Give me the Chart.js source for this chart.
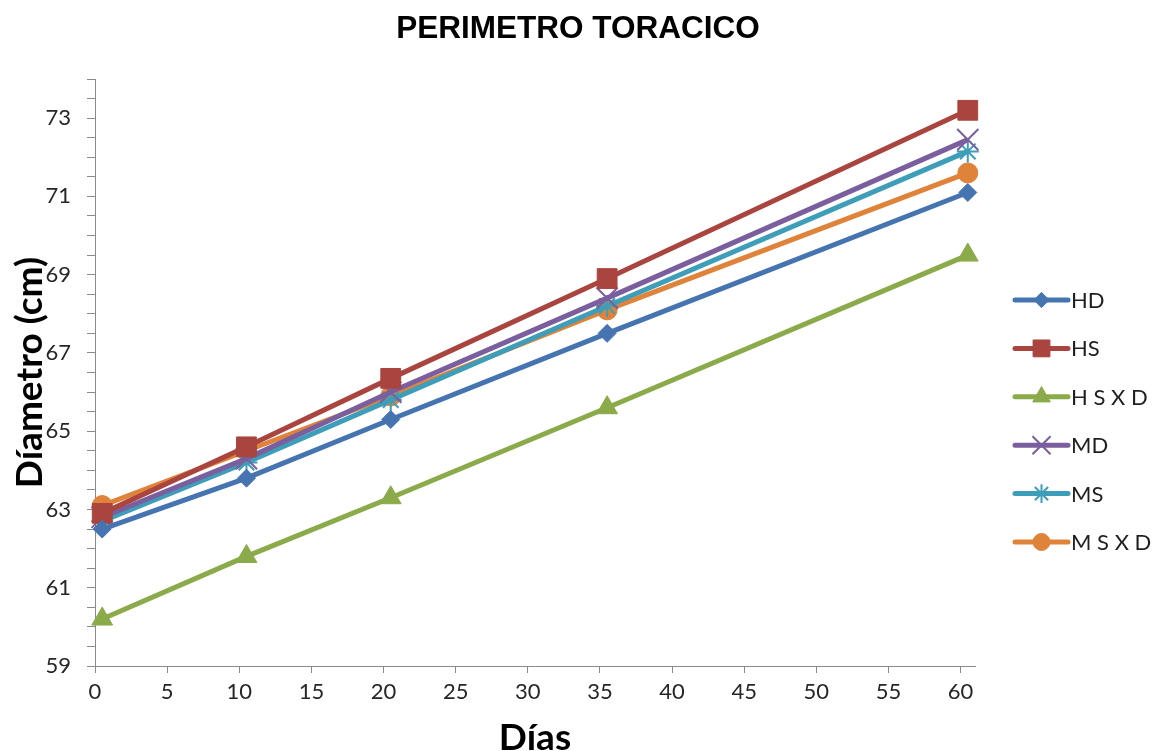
<!DOCTYPE html>
<html>
<head>
<meta charset="utf-8">
<script src="https://cdn.jsdelivr.net/npm/chart.js@4/dist/chart.umd.min.js"></script>
<style>
  html, body { margin: 0; padding: 0; background: #ffffff; }
  #wrap { width: 1155px; height: 751px; }
</style>
</head>
<body>
<div id="wrap"><canvas id="c" width="1155" height="751"></canvas></div>
<script>
// Sampling days (x) and chest perimeter per group (cm)
const dias = [0.5, 10.5, 20.5, 35.5, 60.5];
const seriesNames = ['HD', 'HS', 'H S X D', 'MD', 'MS', 'M S X D'];
const hd   = [62.5, 63.8, 65.3, 67.5, 71.1];
const hs   = [62.9, 64.6, 66.35, 68.9, 73.2];
const hsxd = [60.2, 61.8, 63.3, 65.6, 69.5];
const md   = [62.8, 64.3, 66.0, 68.4, 72.45];
const ms   = [62.7, 64.2, 65.8, 68.2, 72.15];
const msxd = [63.1, 64.5, 65.9, 68.1, 71.6];
const yTickLabels = [59, 61, 63, 65, 67, 69, 71, 73];
const xTickLabels = [0, 5, 10, 15, 20, 25, 30, 35, 40, 45, 50, 55, 60];
const chartTitle = 'PERIMETRO TORACICO';

const values = [hd, hs, hsxd, md, ms, msxd];
const colors = ['#4674B0', '#A9443F', '#8BAA4A', '#7B5E9D', '#3E9DB8', '#E0833A'];
const styles = ['rectRot', 'rect', 'triangle', 'crossRot', 'star', 'circle'];
const radii  = [9, 14, 12, 15, 11, 10];

const datasets = seriesNames.map((name, i) => ({
  label: name,
  data: dias.map((d, k) => ({ x: d, y: values[i][k] })),
  borderColor: colors[i],
  backgroundColor: colors[i],
  borderWidth: 5,
  tension: 0,
  pointStyle: styles[i],
  pointRadius: radii[i],
  pointHoverRadius: radii[i],
  pointBackgroundColor: colors[i],
  pointBorderColor: colors[i],
  pointBorderWidth: (styles[i] === 'crossRot' || styles[i] === 'star') ? 2 : 1,
  clip: false
}));

// Title centred across the whole canvas (legend column included)
const pageTitle = {
  id: 'pageTitle',
  afterDraw(chart) {
    const ctx = chart.ctx;
    ctx.save();
    ctx.fillStyle = '#000000';
    ctx.font = 'bold 31.5px "Liberation Sans"';
    ctx.textAlign = 'center';
    ctx.textBaseline = 'middle';
    ctx.fillText(chartTitle, 578, 29);
    ctx.restore();
  }
};

// Legend on the right: short line segment with the series marker, then the name
const sideLegend = {
  id: 'sideLegend',
  afterDraw(chart) {
    const ctx = chart.ctx;
    const x0 = 1015, x1 = 1068, y0 = 300, step = 48.4;
    ctx.save();
    chart.data.datasets.forEach((ds, i) => {
      const y = y0 + i * step;
      ctx.strokeStyle = ds.borderColor;
      ctx.lineWidth = 5;
      ctx.lineCap = 'round';
      ctx.beginPath();
      ctx.moveTo(x0, y);
      ctx.lineTo(x1, y);
      ctx.stroke();
      ctx.fillStyle = ds.pointBackgroundColor;
      ctx.strokeStyle = ds.pointBorderColor;
      ctx.lineWidth = ds.pointBorderWidth;
      ctx.lineCap = 'butt';
      Chart.helpers.drawPoint(ctx, { pointStyle: ds.pointStyle, radius: ds.pointRadius * 0.85, borderWidth: ds.pointBorderWidth }, (x0 + x1) / 2, y);
      ctx.fillStyle = '#1f1f1f';
      ctx.font = '22px Lato';
      ctx.textAlign = 'left';
      ctx.textBaseline = 'middle';
      ctx.fillText(ds.label, x1 + 3, y + 1);
    });
    ctx.restore();
  }
};

new Chart(document.getElementById('c'), {
  type: 'line',
  data: { datasets },
  options: {
    responsive: false,
    animation: false,
    layout: { padding: { left: 0, right: 180, top: 79, bottom: 0 } },
    plugins: {
      legend: { display: false },
      tooltip: { enabled: false },
      title: { display: false }
    },
    scales: {
      x: {
        type: 'linear',
        min: 0,
        max: 61,
        afterFit(scale) { scale.height = 85; },
        afterBuildTicks(scale) { scale.ticks = xTickLabels.map(v => ({ value: v })); },
        ticks: {
          stepSize: 5,
          includeBounds: false,
          autoSkip: false,
          maxRotation: 0,
          padding: 6,
          color: '#262626',
          font: { family: 'Lato', size: 22 }
        },
        grid: { display: true, drawOnChartArea: false, drawTicks: true, tickLength: 7, color: '#8a8a8a' },
        border: { display: true, color: '#8a8a8a', width: 1 },
        title: {
          display: true,
          text: 'Días',
          color: '#000000',
          font: { family: 'Lato', size: 37, weight: 'bold', lineHeight: 0.7 },
          padding: { top: 0, bottom: 0 }
        }
      },
      y: {
        type: 'linear',
        min: 59,
        max: 74,
        afterFit(scale) { scale.width = 95; },
        ticks: {
          stepSize: 0.5,
          includeBounds: false,
          autoSkip: false,
          padding: 16,
          color: '#262626',
          font: { family: 'Lato', size: 22 },
          callback: (v) => yTickLabels.includes(v) ? String(v) : ''
        },
        grid: { display: true, drawOnChartArea: false, drawTicks: true, tickLength: 8, color: '#8a8a8a' },
        border: { display: true, color: '#8a8a8a', width: 1 },
        title: {
          display: true,
          text: 'Díametro (cm)',
          color: '#000000',
          font: { family: 'Lato', size: 37, weight: 'bold', lineHeight: 1 },
          padding: { top: 12, bottom: 0 }
        }
      }
    }
  },
  plugins: [pageTitle, sideLegend]
});
</script>
</body>
</html>
